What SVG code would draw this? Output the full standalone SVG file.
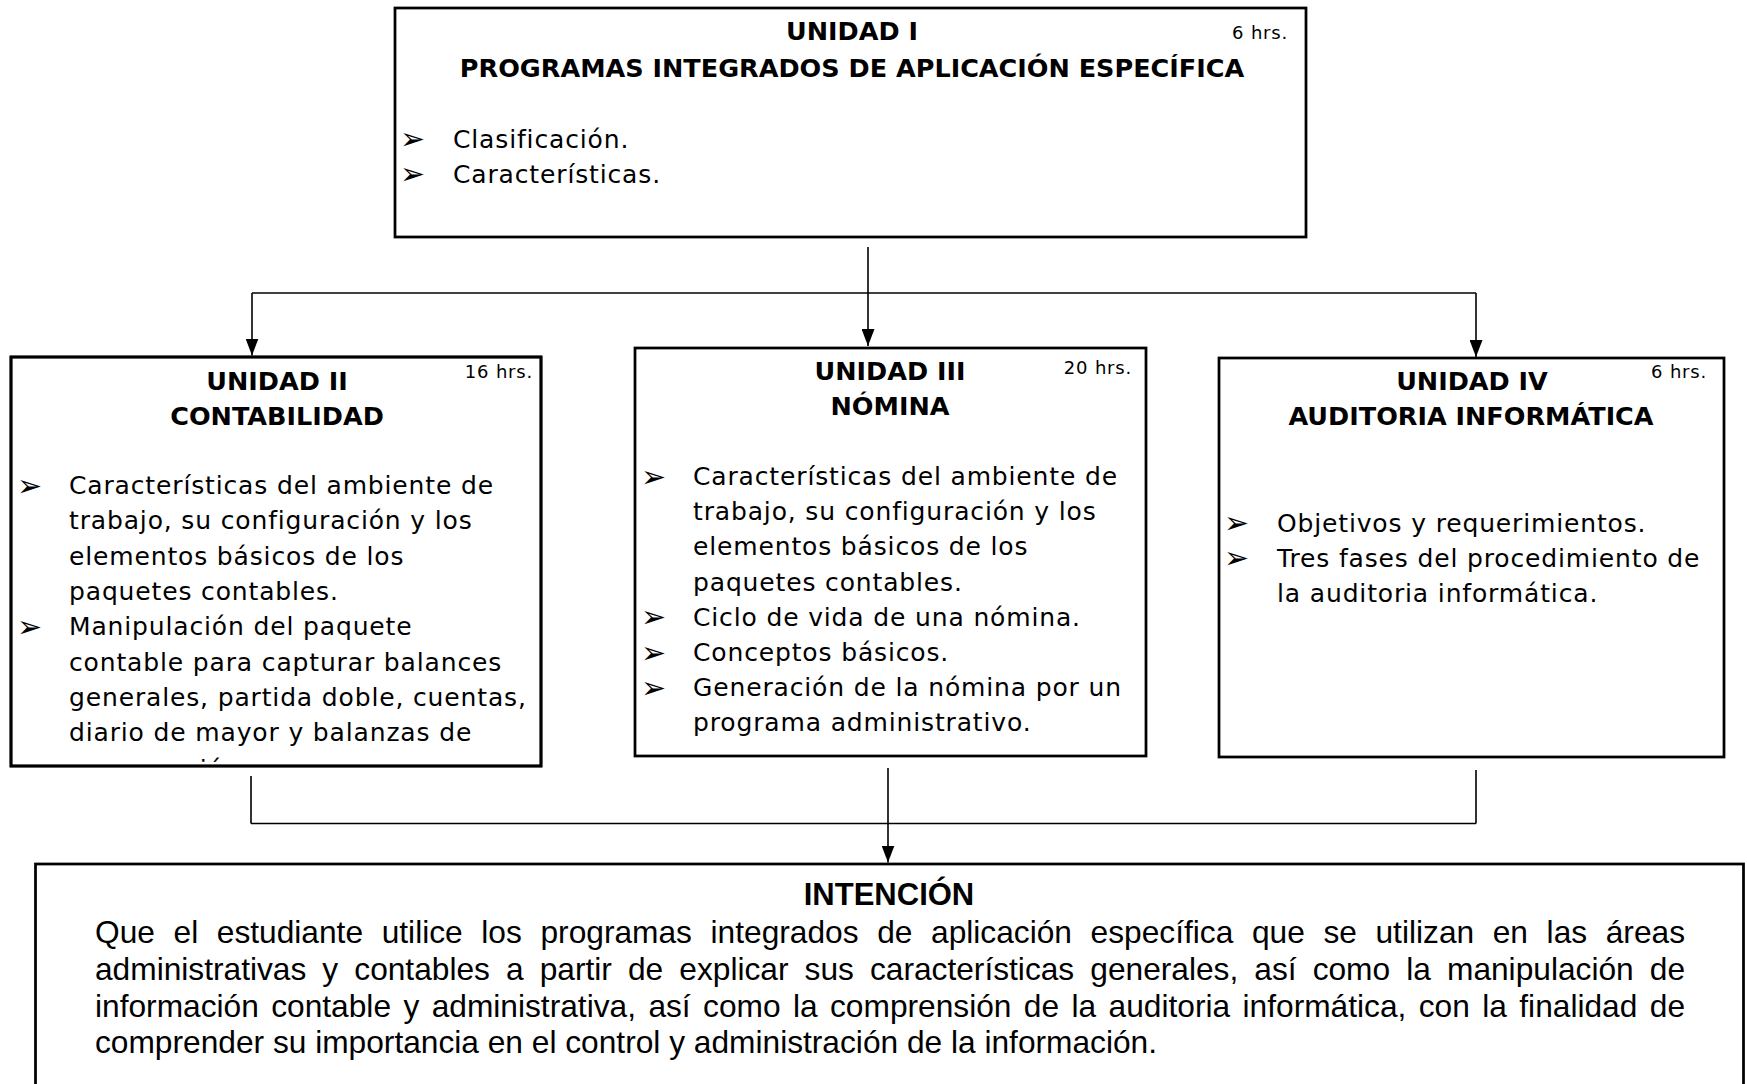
<svg xmlns="http://www.w3.org/2000/svg" width="1747" height="1084" viewBox="0 0 1747 1084">
<style>
.box{fill:#fff;stroke:#000;stroke-width:2.75}
.h{font-family:"DejaVu Sans",sans-serif;font-weight:bold;font-size:25.5px;text-anchor:middle;fill:#000}
.t{font-family:"DejaVu Sans",sans-serif;font-size:25px;letter-spacing:0.85px;fill:#000}
.b{font-family:"DejaVu Sans",sans-serif;font-size:30px;fill:#000}
.hrs{font-family:"DejaVu Sans",sans-serif;font-size:18px;letter-spacing:0.8px;text-anchor:end;fill:#000}
.ln{stroke:#000;stroke-width:1.6;fill:none}
.p{font-family:"Liberation Sans",Arial,sans-serif;font-size:31.7px;fill:#000}
.pb{font-family:"Liberation Sans",Arial,sans-serif;font-size:31px;font-weight:bold;text-anchor:middle;fill:#000}
</style>
<defs>
<marker id="arr" markerUnits="userSpaceOnUse" markerWidth="17" markerHeight="13" refX="17" refY="6.5" orient="auto">
<path d="M0,0 L17,6.5 L0,13 z" fill="#000"/>
</marker>
<clipPath id="clipII"><rect x="11" y="357" width="530" height="407"/></clipPath>
</defs>
<rect width="1747" height="1084" fill="#fff"/>

<g id="connectors">
<path class="ln" d="M868,247 V346" marker-end="url(#arr)"/>
<path class="ln" d="M252,293 H1476"/>
<path class="ln" d="M252,293 V355.5" marker-end="url(#arr)"/>
<path class="ln" d="M1476,293 V357" marker-end="url(#arr)"/>
<path class="ln" d="M251,776 V823.5 M1476,770 V823.5"/>
<path class="ln" stroke-width="2" d="M251,823.5 H1476"/>
<path class="ln" d="M888,768 V862.5" marker-end="url(#arr)"/>
</g>

<g id="unidad1">
<rect class="box" x="395" y="8" width="911" height="229"/>
<text class="h" x="852" y="40">UNIDAD I</text>
<text class="hrs" x="1288" y="39">6 hrs.</text>
<text class="h" x="852" y="76.5">PROGRAMAS INTEGRADOS DE APLICACIÓN ESPECÍFICA</text>
<text class="b" x="400" y="149">➢</text>
<text class="b" x="400" y="184">➢</text>
<text class="t" x="453" y="147.5">Clasificación.</text>
<text class="t" x="453" y="182.5">Características.</text>
</g>

<g id="unidad2">
<rect class="box" x="11" y="357" width="530" height="409"/>
<text class="h" x="277" y="390">UNIDAD II</text>
<text class="hrs" x="533" y="378">16 hrs.</text>
<text class="h" x="277" y="425">CONTABILIDAD</text>
<text class="b" x="17" y="495.5">➢</text>
<text class="b" x="17" y="636.7">➢</text>
<text class="t" x="69" y="494">Características del ambiente de</text>
<text class="t" x="69" y="529.3">trabajo, su configuración y los</text>
<text class="t" x="69" y="564.6">elementos básicos de los</text>
<text class="t" x="69" y="599.9">paquetes contables.</text>
<text class="t" x="69" y="635.2">Manipulación del paquete</text>
<text class="t" x="69" y="670.5">contable para capturar balances</text>
<text class="t" x="69" y="705.8">generales, partida doble, cuentas,</text>
<text class="t" x="69" y="741.1">diario de mayor y balanzas de</text>
<text class="t" x="69" y="778" clip-path="url(#clipII)">comparación.</text>
<rect x="11" y="357" width="530" height="409" fill="none" stroke="#000" stroke-width="2.75"/>
</g>

<g id="unidad3">
<rect class="box" x="635" y="348" width="511" height="408"/>
<text class="h" x="890" y="380">UNIDAD III</text>
<text class="hrs" x="1132" y="374">20 hrs.</text>
<text class="h" x="890" y="415">NÓMINA</text>
<text class="b" x="641" y="486.5">➢</text>
<text class="b" x="641" y="627.3">➢</text>
<text class="b" x="641" y="662.5">➢</text>
<text class="b" x="641" y="697.7">➢</text>
<text class="t" x="693" y="485">Características del ambiente de</text>
<text class="t" x="693" y="520.2">trabajo, su configuración y los</text>
<text class="t" x="693" y="555.4">elementos básicos de los</text>
<text class="t" x="693" y="590.6">paquetes contables.</text>
<text class="t" x="693" y="625.8">Ciclo de vida de una nómina.</text>
<text class="t" x="693" y="661">Conceptos básicos.</text>
<text class="t" x="693" y="696.2">Generación de la nómina por un</text>
<text class="t" x="693" y="731.4">programa administrativo.</text>
</g>

<g id="unidad4">
<rect class="box" x="1219" y="358" width="505" height="399"/>
<text class="h" x="1472" y="390">UNIDAD IV</text>
<text class="hrs" x="1707" y="378">6 hrs.</text>
<text class="h" x="1471" y="425">AUDITORIA INFORMÁTICA</text>
<text class="b" x="1224" y="533.2">➢</text>
<text class="b" x="1224" y="568.4">➢</text>
<text class="t" x="1277" y="531.7">Objetivos y requerimientos.</text>
<text class="t" x="1277" y="566.9">Tres fases del procedimiento de</text>
<text class="t" x="1277" y="602.1">la auditoria informática.</text>
</g>

<g id="intencion">
<rect class="box" x="35.5" y="864" width="1708" height="240"/>
<text class="pb" x="889" y="905">INTENCIÓN</text>
<text class="p" x="95" y="943.3" word-spacing="9.8" textLength="1590" lengthAdjust="spacing">Que el estudiante utilice los programas integrados de aplicación específica que se utilizan en las áreas</text>
<text class="p" x="95" y="980" word-spacing="7.3" textLength="1590" lengthAdjust="spacing">administrativas y contables a partir de explicar sus características generales, así como la manipulación de</text>
<text class="p" x="95" y="1016.7" word-spacing="3.6" textLength="1590" lengthAdjust="spacing">información contable y administrativa, así como la comprensión de la auditoria informática, con la finalidad de</text>
<text class="p" x="95" y="1053.3">comprender su importancia en el control y administración de la información.</text>
</g>
</svg>
